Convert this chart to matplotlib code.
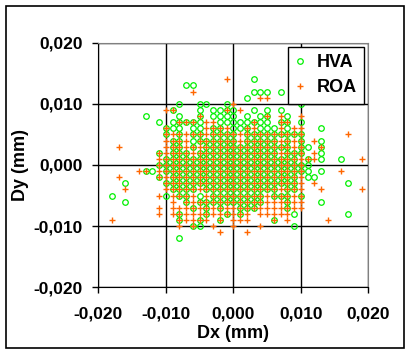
import numpy as np
import matplotlib
matplotlib.use("Agg")
import matplotlib.pyplot as plt
from matplotlib.patches import Rectangle
from matplotlib.ticker import FuncFormatter, MultipleLocator

# displacement readings in micrometres, one row per Dy level: (dy, [dx, ...])
hva_rows = [
    (14, [3]),
    (13, [-7, -6]),
    (12, [3, 4, 5, 7]),
    (11, [2, 9]),
    (10, [-8, -5, -4, -1, 10]),
    (9, [-9, -5, -3, -2, -1, 0, 3, 5, 7]),
    (8, [-13, -8, -5, -3, -2, -1, 0, 2, 4, 5, 8]),
    (7, [-11, -9, -8, -7, -6, -5, -2, -1, 0, 1, 2, 3, 4, 5, 7, 8, 10]),
    (6, [-10, -9, -8, -6, -5, -3, -2, 0, 1, 2, 4, 5, 6, 8, 13]),
    (5, [-10, -8, -6, -5, -3, -2, -1, 0, 2, 3, 4, 5, 6, 7, 8, 9, 10]),
    (4, [-9, -8, -6, -5, -4, -3, -2, -1, 0, 2, 3, 4, 5, 6, 8, 10, 13]),
    (3, [-9, -8, -6, -4, -3, -2, -1, 0, 1, 2, 3, 4, 5, 6, 7, 8, 10, 11, 13]),
    (2, [-11, -9, -8, -7, -5, -4, -3, -2, -1, 0, 1, 2, 3, 4, 5, 6, 8, 9, 10, 13]),
    (1, [-10, -9, -8, -7, -6, -5, -4, -3, -2, -1, 0, 1, 2, 3, 4, 5, 6, 7, 8, 9, 11, 13, 16]),
    (0, [-11, -10, -9, -8, -7, -6, -5, -4, -3, -2, -1, 0, 1, 2, 3, 4, 5, 6, 7, 8, 9, 10, 11]),
    (-1, [-13, -12, -10, -9, -8, -7, -6, -5, -4, -3, -2, -1, 0, 1, 2, 3, 4, 5, 6, 7, 8, 9, 10, 11, 13]),
    (-2, [-11, -9, -8, -7, -6, -5, -4, -3, -2, -1, 0, 1, 2, 3, 4, 5, 6, 7, 8, 9, 11, 12]),
    (-3, [-16, -10, -9, -8, -7, -6, -5, -4, -3, -2, -1, 0, 1, 2, 3, 4, 5, 6, 7, 8, 9, 17]),
    (-4, [-9, -8, -7, -6, -4, -3, -2, -1, 0, 1, 2, 3, 4, 5, 6, 8, 9]),
    (-5, [-18, -10, -8, -7, -5, -3, -2, -1, 0, 1, 2, 3, 4, 6, 7, 8, 10]),
    (-6, [-16, -7, -5, -4, -3, -2, -1, 0, 1, 2, 3, 4, 8, 13]),
    (-7, [-6, -4, -2, 1, 2, 3, 8]),
    (-8, [-8, -4, -1, 1, 9, 17]),
    (-9, [-8, -5, -2, 6]),
    (-10, [-6, -5, 9]),
    (-12, [-8]),
]

roa_rows = [
    (17, [9]),
    (14, [-1]),
    (12, [-6]),
    (11, [4, 5]),
    (10, [0]),
    (9, [-10, -9, -1, 1]),
    (8, [-5, 5, 7, 10]),
    (7, [-8, -7, -6, -4, -3, 3, 7, 8]),
    (6, [-10, -4, -3, -2, -1, 2, 3, 7, 9, 10]),
    (5, [-10, -9, -8, -7, -6, -5, -4, -3, -2, -1, 0, 1, 2, 3, 4, 5, 6, 7, 8, 9, 10, 17]),
    (4, [-10, -9, -8, -7, -5, -4, -3, -2, -1, 0, 1, 2, 3, 4, 5, 6, 7, 8, 9, 10, 12]),
    (3, [-17, -10, -9, -8, -7, -6, -5, -4, -3, -2, -1, 0, 1, 2, 3, 4, 5, 6, 7, 8, 9, 10, 13]),
    (2, [-11, -10, -9, -8, -7, -6, -5, -4, -3, -2, -1, 0, 1, 2, 3, 4, 5, 6, 7, 8, 9, 10, 12]),
    (1, [-11, -10, -9, -8, -7, -6, -5, -4, -3, -2, -1, 0, 1, 2, 3, 4, 5, 6, 7, 8, 9, 10, 11, 12, 19]),
    (0, [-11, -10, -9, -8, -7, -6, -5, -4, -3, -2, -1, 0, 1, 2, 3, 4, 5, 6, 7, 8, 9, 10]),
    (-1, [-14, -13, -11, -10, -9, -8, -7, -6, -5, -4, -3, -2, -1, 0, 1, 2, 3, 4, 5, 6, 7, 8, 9, 10, 16]),
    (-2, [-17, -11, -10, -9, -8, -7, -6, -5, -4, -3, -2, -1, 0, 1, 2, 3, 4, 5, 6, 7, 8, 9, 10]),
    (-3, [-10, -9, -8, -7, -6, -5, -4, -3, -2, -1, 0, 1, 2, 3, 4, 5, 6, 7, 8, 9, 10, 12]),
    (-4, [-16, -10, -9, -8, -7, -6, -5, -4, -3, -2, -1, 0, 1, 2, 3, 4, 5, 6, 7, 8, 9, 10, 13, 19]),
    (-5, [-11, -9, -8, -7, -6, -4, -3, -2, -1, 0, 1, 2, 3, 4, 5, 6, 7, 8, 9, 10]),
    (-6, [-9, -7, -6, -5, -4, -3, -2, -1, 0, 1, 2, 3, 4, 5, 6, 7, 8, 9, 10]),
    (-7, [-11, -9, -8, -7, -6, -5, -4, -3, -2, -1, 0, 1, 2, 3, 4, 5, 6, 7, 8, 9, 10]),
    (-8, [-11, -9, -8, -7, -6, -5, -4, -3, -2, -1, 0, 1, 2, 4, 5, 6, 7, 8]),
    (-9, [-18, -8, -7, -6, -5, -4, -2, 0, 1, 2, 6, 8, 14]),
    (-10, [-8, -6, -3, 0, 4]),
    (-11, [-2, 2]),
]


def to_xy(rows):
    # micrometres -> mm
    xs = [dx / 1000 for dy, row in rows for dx in row]
    ys = [dy / 1000 for dy, row in rows for dx in row]
    return np.array(xs), np.array(ys)


def fmt(v, pos):
    s = "%.3f" % v
    if s == "-0.000":
        s = "0.000"
    return s.replace(".", ",")


plt.rcParams["font.family"] = ["Liberation Sans", "DejaVu Sans"]
plt.rcParams["font.weight"] = "bold"

fig = plt.figure(figsize=(4.10, 3.54), dpi=100)
ax = fig.add_axes([0.2398, 0.1884, 0.6585, 0.691])

hx, hy = to_xy(hva_rows)
rx, ry = to_xy(roa_rows)

ax.plot(hx, hy, linestyle="none", marker="o", markersize=4, markerfacecolor="none",
        markeredgecolor="#00f000", markeredgewidth=0.9, label="HVA", zorder=3)
ax.plot(rx, ry, linestyle="none", marker="+", markersize=5, markeredgecolor="#ff6600",
        markeredgewidth=1.0, label="ROA", zorder=4)

ax.set_xlim(-0.02, 0.02)
ax.set_ylim(-0.02, 0.02)
ax.xaxis.set_major_locator(MultipleLocator(0.01))
ax.yaxis.set_major_locator(MultipleLocator(0.01))
ax.xaxis.set_major_formatter(FuncFormatter(fmt))
ax.yaxis.set_major_formatter(FuncFormatter(fmt))
ax.tick_params(direction="out", length=4, width=1, colors="black", labelsize=12.5, pad=7)
ax.tick_params(axis="x", pad=10)

ax.grid(True, color="black", linewidth=1)
ax.set_axisbelow(True)
for side in ["left", "bottom"]:
    ax.spines[side].set_color("black")
for side in ["top", "right"]:
    ax.spines[side].set_color("#808080")

ax.set_xlabel("Dx (mm)", fontsize=13, fontweight="bold")
ax.set_ylabel("Dy (mm)", fontsize=13, fontweight="bold")
ax.xaxis.set_label_coords(0.5, -0.187)
ax.xaxis.label.set_verticalalignment("center")
ax.yaxis.set_label_coords(-0.29, 0.5)
ax.yaxis.label.set_verticalalignment("center")

leg = ax.legend(loc="upper right", bbox_to_anchor=(0.984, 0.982), borderaxespad=0,
                fancybox=False, framealpha=1, edgecolor="black", fontsize=13,
                handlelength=0.6, handletextpad=0.6, labelspacing=0.45, borderpad=0.4)
leg.get_frame().set_linewidth(1)

# outer chart border
fig.patches.append(Rectangle((6 / 410, 6 / 354), 398 / 410, 342 / 354, transform=fig.transFigure,
                             fill=False, edgecolor="black", linewidth=1.2))

fig.savefig("out.png", dpi=100)
